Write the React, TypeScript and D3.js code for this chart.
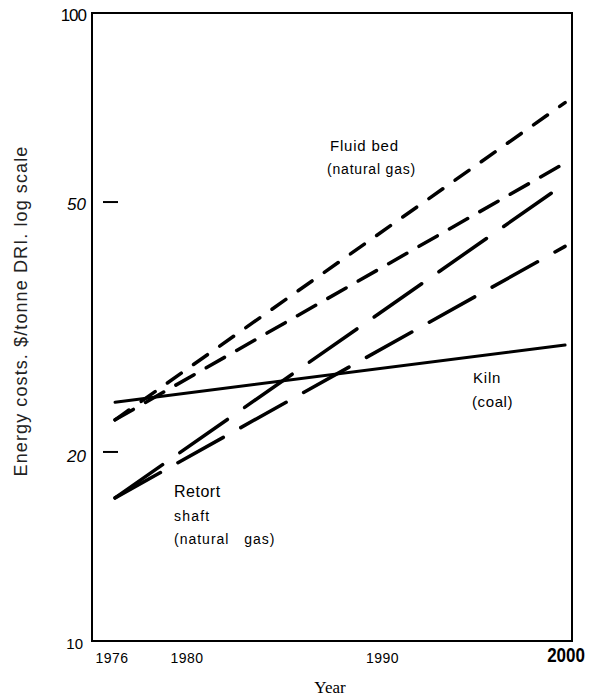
import React from "react";
import * as d3 from "d3";

// Energy cost projections per technology, $/tonne DRI
const years = [1976, 2000];
const kilnCoal = [24.0, 29.6];
const fluidBedHigh = [22.5, 72.0];
const fluidBedLow = [22.5, 57.7];
const retortHigh = [16.9, 53.5];
const retortLow = [16.9, 42.5];

const yTicks = [100, 50, 20, 10];
const xTicks = [1976, 1980, 1990, 2000];

const W = 591;
const H = 698;
const plot = { left: 92, right: 572, top: 13, bottom: 641 };

const x = d3.scaleLinear().domain([1974.77, 2000.37]).range([plot.left, plot.right]);
const y = d3.scaleLog().domain([10, 100]).range([plot.bottom, plot.top]);

const line = d3
  .line<[number, number]>()
  .x((d) => x(d[0]))
  .y((d) => y(d[1]));

const series = [
  { values: kilnCoal, dash: null, width: 3 },
  { values: fluidBedHigh, dash: "17 15", width: 3.5 },
  { values: fluidBedLow, dash: "21 14", width: 3.5 },
  { values: retortHigh, dash: "58 21", width: 3.5 },
  { values: retortLow, dash: "52 20", width: 3.5 },
];

const sans = "'Liberation Sans', Arial, sans-serif";

export default function App() {
  return (
    <svg
      width={W}
      height={H}
      style={{ position: "absolute", left: 0, top: 0, background: "#fff" }}
      fontFamily={sans}
    >
      {/* frame */}
      <rect
        x={plot.left}
        y={plot.top}
        width={plot.right - plot.left}
        height={plot.bottom - plot.top}
        fill="none"
        stroke="#000"
        strokeWidth={2}
      />

      {/* y ticks: short dashes inside the frame for interior values */}
      {yTicks
        .filter((v) => v !== 100 && v !== 10)
        .map((v) => (
          <line key={v} x1={103} x2={118} y1={y(v)} y2={y(v)} stroke="#000" strokeWidth={2} />
        ))}

      {/* y tick labels */}
      <text x={86} y={y(100) + 8} textAnchor="end" fontSize={17} letterSpacing={-1}>
        {yTicks[0]}
      </text>
      <text x={86} y={y(50) + 8} textAnchor="end" fontSize={17} fontStyle="italic">
        {yTicks[1]}
      </text>
      <text x={86} y={y(20) + 10} textAnchor="end" fontSize={17} fontStyle="italic">
        {yTicks[2]}
      </text>
      <text x={83} y={y(10) + 8} textAnchor="end" fontSize={15}>
        {yTicks[3]}
      </text>

      {/* x tick labels */}
      {xTicks.slice(0, 3).map((t, i) => (
        <text
          key={t}
          x={x(t) + (i === 0 ? -3 : i === 1 ? -3 : 5)}
          y={663}
          textAnchor="middle"
          fontSize={14}
          letterSpacing={0.5}
        >
          {t}
        </text>
      ))}
      <text
        x={x(2000) + 1}
        y={662}
        textAnchor="middle"
        fontSize={20}
        fontWeight="bold"
        transform={`translate(${x(2000) + 1},0) scale(0.85,1) translate(${-(x(2000) + 1)},0)`}
      >
        {xTicks[3]}
      </text>

      {/* axis titles */}
      <text
        x={330}
        y={693}
        textAnchor="middle"
        fontSize={17}
        fontFamily="'Liberation Serif', 'Times New Roman', serif"
      >
        Year
      </text>
      <text
        transform={`translate(27,311) rotate(-90)`}
        textAnchor="middle"
        fontSize={18}
        letterSpacing={1.1}
        fill="#222"
      >
        Energy costs. $/tonne DRI. log scale
      </text>

      {/* series */}
      {series.map((s, i) => (
        <path
          key={i}
          d={line(years.map((yr, j) => [yr, s.values[j]] as [number, number])) || ""}
          fill="none"
          stroke="#000"
          strokeWidth={s.width}
          strokeDasharray={s.dash ?? undefined}
          strokeLinecap="round"
        />
      ))}

      {/* series annotations */}
      <text x={330} y={151} fontSize={15} letterSpacing={0.8}>
        Fluid bed
      </text>
      <text x={327} y={174} fontSize={14} letterSpacing={0.8}>
        (natural gas)
      </text>

      <text x={473} y={383} fontSize={15} letterSpacing={0.8}>
        Kiln
      </text>
      <text x={472} y={407} fontSize={15} letterSpacing={0.6}>
        (coal)
      </text>

      <text x={174} y={497} fontSize={16} letterSpacing={0.5}>
        Retort
      </text>
      <text x={174} y={521} fontSize={14} letterSpacing={1.2}>
        shaft
      </text>
      <text x={174} y={544} fontSize={14} letterSpacing={1} xmlSpace="preserve">
        (natural   gas)
      </text>
    </svg>
  );
}
